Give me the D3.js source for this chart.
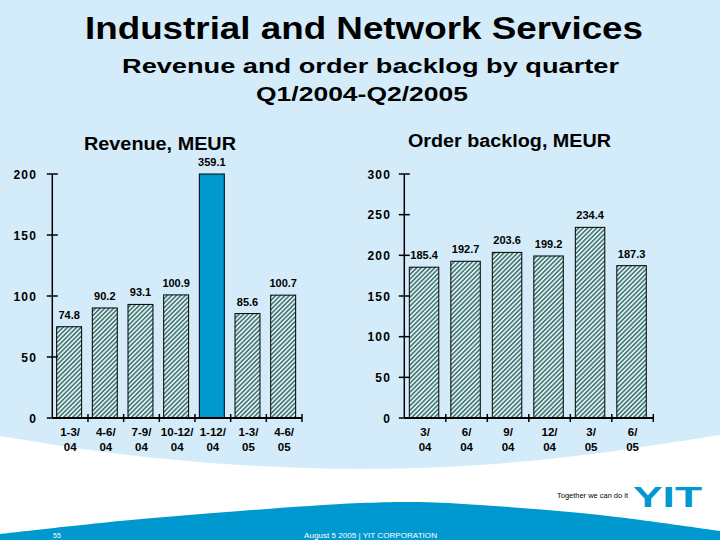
<!DOCTYPE html>
<html><head><meta charset="utf-8">
<script src="https://cdn.jsdelivr.net/npm/d3@7"></script>
<style>body{margin:0;background:#fff;} svg{display:block;font-family:"Liberation Sans",Arial,sans-serif;}</style>
</head><body><svg id="c" width="720" height="540"></svg>
<script>
// ---- data ----
const revCategories = ["1-3/04","4-6/04","7-9/04","10-12/04","1-12/04","1-3/05","4-6/05"];
const revValues = [74.8, 90.2, 93.1, 100.9, 359.1, 85.6, 100.7];
const revHighlight = [false, false, false, false, true, false, false];
const revTicks = [0, 50, 100, 150, 200];
const backlogCategories = ["3/04","6/04","9/04","12/04","3/05","6/05"];
const backlogValues = [185.4, 192.7, 203.6, 199.2, 234.4, 187.3];
const backlogTicks = [0, 50, 100, 150, 200, 250, 300];
const titleText = "Industrial and Network Services";
const subtitleLines = ["Revenue and order backlog by quarter", "Q1/2004-Q2/2005"];
const panelTitles = ["Revenue, MEUR", "Order backlog, MEUR"];
const footerLeft = "55";
const footerCenter = "August 5 2005   |   YIT CORPORATION";
const sloganText = "Together we can do it";
const logoText = "YIT";

// ---- style ----
const BG = "#d4ecf9", BLUE = "#0099cf";
const svg = d3.select("#c");

const defs = svg.append("defs");
const pat = defs.append("pattern").attr("id","hatch").attr("patternUnits","userSpaceOnUse")
  .attr("width",3.2).attr("height",3.2).attr("patternTransform","rotate(45)");
pat.append("rect").attr("width",3.2).attr("height",3.2).attr("fill","#e0f0f0");
pat.append("line").attr("x1",0.8).attr("x2",0.8).attr("y1",0).attr("y2",3.2)
  .attr("stroke","#3f7272").attr("stroke-width",1.5);

// background decoration
svg.append("rect").attr("width",720).attr("height",540).attr("fill",BG);
const curve = d3.line().curve(d3.curveCatmullRom);
const whiteEdge = [[0,436],[120,454],[240,465],[360,469],[480,465],[600,453],[720,435]];
svg.append("path").attr("fill","#fff")
  .attr("d", curve(whiteEdge) + "L720,540L0,540Z");
const blueEdge = [[0,534],[120,521],[240,511],[360,503],[420,502],[480,505],[600,515],[720,531]];
svg.append("path").attr("fill",BLUE)
  .attr("d", curve(blueEdge) + "L720,540L0,540Z");

// titles
svg.append("text").attr("x",85).attr("y",38.5).attr("font-size",32).attr("font-weight","bold")
  .attr("textLength",558).attr("lengthAdjust","spacingAndGlyphs").text(titleText);
svg.append("text").attr("x",122).attr("y",73).attr("font-size",21).attr("font-weight","bold")
  .attr("textLength",497).attr("lengthAdjust","spacingAndGlyphs").text(subtitleLines[0]);
svg.append("text").attr("x",256).attr("y",101).attr("font-size",21).attr("font-weight","bold")
  .attr("textLength",212).attr("lengthAdjust","spacingAndGlyphs").text(subtitleLines[1]);
svg.append("text").attr("x",84).attr("y",150).attr("font-size",18).attr("font-weight","bold")
  .attr("textLength",152).attr("lengthAdjust","spacingAndGlyphs").text(panelTitles[0]);
svg.append("text").attr("x",408).attr("y",147).attr("font-size",18).attr("font-weight","bold")
  .attr("textLength",203).attr("lengthAdjust","spacingAndGlyphs").text(panelTitles[1]);

function panel(cats, vals, hl, ticks, x0, x1, pad, labelGap){
  const g = svg.append("g");
  const y = d3.scaleLinear().domain([0, d3.max(ticks)]).range([418, 174]).clamp(true);
  const x = d3.scaleBand().domain(cats).range([x0, x1]).paddingInner(pad).paddingOuter(pad/2);
  const y0 = y(0);
  // bars
  g.selectAll("rect.bar").data(vals).join("rect").attr("class","bar")
    .attr("x",(d,i)=>x(cats[i])-1).attr("width",x.bandwidth())
    .attr("y",d=>y(d)).attr("height",d=>y0-y(d))
    .attr("fill",(d,i)=>hl && hl[i] ? BLUE : "url(#hatch)")
    .attr("stroke","#000").attr("stroke-width",1);
  // value labels
  g.selectAll("text.val").data(vals).join("text").attr("class","val")
    .attr("x",(d,i)=>x(cats[i])-1+x.bandwidth()/2).attr("y",d=>y(d)-8)
    .attr("text-anchor","middle").attr("font-size",11).attr("font-weight","bold")
    .text(d=>d.toFixed(1));
  // y axis
  g.append("line").attr("x1",x0).attr("x2",x0).attr("y1",y0).attr("y2",y(d3.max(ticks)))
    .attr("stroke","#000").attr("stroke-width",1.5);
  g.selectAll("line.yt").data(ticks).join("line").attr("class","yt")
    .attr("x1",x0-5.5).attr("x2",x0+5.5).attr("y1",d=>y(d)).attr("y2",d=>y(d))
    .attr("stroke","#000").attr("stroke-width",1.5);
  g.selectAll("text.yl").data(ticks).join("text").attr("class","yl")
    .attr("x",x0-labelGap).attr("y",d=>y(d)+4.5).attr("text-anchor","end")
    .attr("font-size",12).attr("font-weight","bold").attr("letter-spacing",1.3)
    .text(d=>d);
  // x axis
  g.append("line").attr("x1",x0).attr("x2",x1).attr("y1",y0).attr("y2",y0)
    .attr("stroke","#000").attr("stroke-width",2);
  const bounds = d3.range(1, cats.length+1).map(k=>x0 + k*x.step());
  g.selectAll("line.xt").data(bounds).join("line").attr("class","xt")
    .attr("x1",d=>d).attr("x2",d=>d).attr("y1",y0-4).attr("y2",y0+4)
    .attr("stroke","#000").attr("stroke-width",1.5);
  const lab = g.selectAll("text.xl").data(cats).join("text").attr("class","xl")
    .attr("text-anchor","middle").attr("font-size",11.5).attr("font-weight","bold");
  lab.each(function(c){
    const k = c.indexOf("/");
    const t = d3.select(this);
    const cx = x(c) + x.bandwidth()/2;
    t.append("tspan").attr("x",cx).attr("y",y0+18).text(c.slice(0,k+1));
    t.append("tspan").attr("x",cx).attr("y",y0+33).text(c.slice(k+1));
  });
}
panel(revCategories, revValues, revHighlight, revTicks, 52.3, 302, 0.3, 15);
panel(backlogCategories, backlogValues, null, backlogTicks, 404.3, 653.3, 0.29, 13);

// footer
svg.append("text").attr("x",557).attr("y",498).attr("font-size",6.5)
  .attr("textLength",71).attr("lengthAdjust","spacingAndGlyphs").attr("fill","#000").text(sloganText);
svg.append("text").attr("x",633).attr("y",507).attr("font-size",30).attr("font-weight","bold")
  .attr("textLength",69).attr("lengthAdjust","spacingAndGlyphs").attr("fill",BLUE).text(logoText);
svg.append("text").attr("x",53).attr("y",538).attr("font-size",7).attr("fill","#fff").text(footerLeft);
svg.append("text").attr("x",304).attr("y",538).attr("font-size",7).attr("fill","#fff")
  .attr("textLength",133).attr("lengthAdjust","spacingAndGlyphs").text(footerCenter);
</script></body></html>
